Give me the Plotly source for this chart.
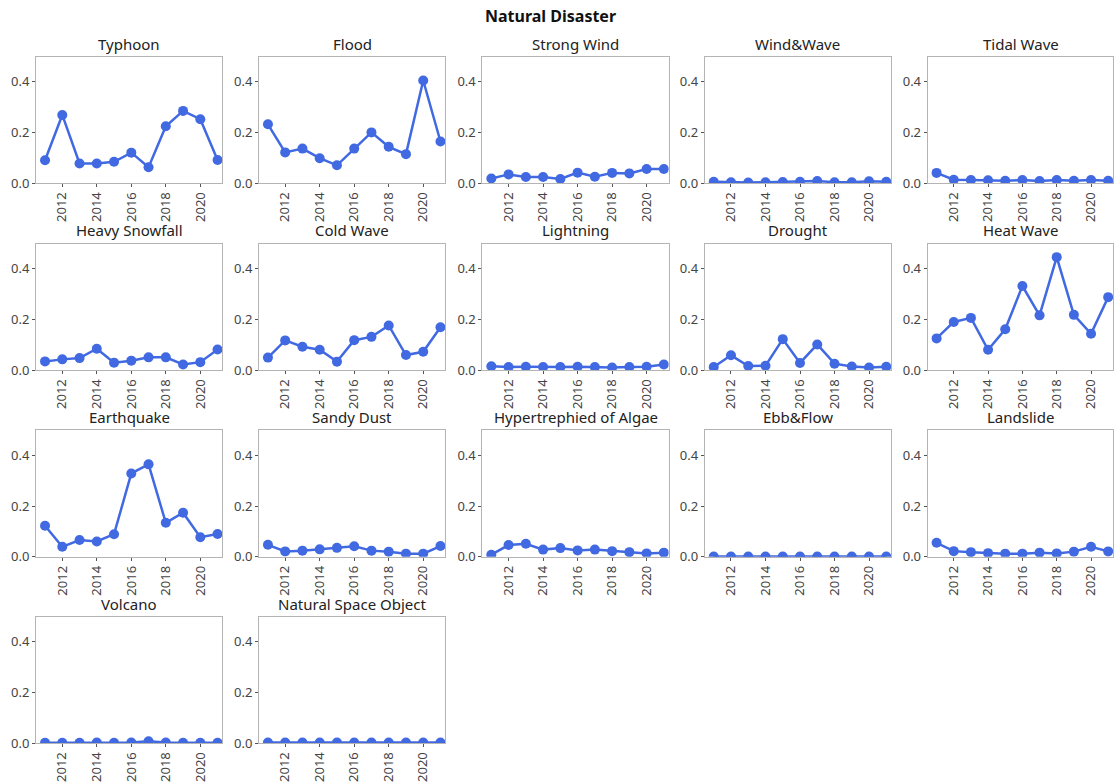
import plotly.graph_objects as go

years = list(range(2011, 2022))

typhoon = [0.090, 0.269, 0.077, 0.077, 0.084, 0.120, 0.062, 0.224, 0.285, 0.252, 0.091]
flood = [0.232, 0.121, 0.136, 0.098, 0.070, 0.136, 0.200, 0.143, 0.114, 0.405, 0.164]
strong_wind = [0.018, 0.034, 0.024, 0.024, 0.016, 0.041, 0.025, 0.040, 0.038, 0.055, 0.055]
wind_wave = [0.005, 0.003, 0.002, 0.003, 0.004, 0.005, 0.008, 0.003, 0.003, 0.007, 0.005]
tidal_wave = [0.040, 0.013, 0.012, 0.011, 0.009, 0.012, 0.008, 0.012, 0.009, 0.012, 0.009]
heavy_snowfall = [0.034, 0.042, 0.047, 0.084, 0.029, 0.037, 0.050, 0.050, 0.022, 0.031, 0.081]
cold_wave = [0.049, 0.117, 0.092, 0.080, 0.033, 0.118, 0.131, 0.176, 0.059, 0.072, 0.169]
lightning = [0.015, 0.012, 0.013, 0.012, 0.012, 0.013, 0.012, 0.010, 0.012, 0.013, 0.022]
drought = [0.012, 0.058, 0.016, 0.017, 0.122, 0.028, 0.101, 0.025, 0.014, 0.010, 0.013]
heat_wave = [0.125, 0.190, 0.206, 0.080, 0.161, 0.332, 0.216, 0.446, 0.218, 0.143, 0.288]
earthquake = [0.122, 0.039, 0.066, 0.060, 0.089, 0.329, 0.365, 0.134, 0.174, 0.077, 0.090]
sandy_dust = [0.047, 0.021, 0.024, 0.029, 0.035, 0.041, 0.024, 0.020, 0.012, 0.012, 0.042]
algae = [0.008, 0.046, 0.051, 0.028, 0.034, 0.025, 0.028, 0.022, 0.018, 0.013, 0.016]
ebb_flow = [0.001, 0.001, 0.001, 0.001, 0.001, 0.001, 0.001, 0.001, 0.001, 0.001, 0.001]
landslide = [0.055, 0.022, 0.018, 0.014, 0.012, 0.012, 0.016, 0.013, 0.020, 0.039, 0.021]
volcano = [0.001, 0.001, 0.001, 0.002, 0.001, 0.002, 0.007, 0.002, 0.001, 0.001, 0.001]
space_object = [0.002, 0.002, 0.002, 0.002, 0.002, 0.002, 0.002, 0.002, 0.002, 0.002, 0.002]

titles = ["Typhoon", "Flood", "Strong Wind", "Wind&Wave", "Tidal Wave",
          "Heavy Snowfall", "Cold Wave", "Lightning", "Drought", "Heat Wave",
          "Earthquake", "Sandy Dust", "Hypertrephied of Algae", "Ebb&Flow", "Landslide",
          "Volcano", "Natural Space Object"]
series = [typhoon, flood, strong_wind, wind_wave, tidal_wave,
          heavy_snowfall, cold_wave, lightning, drought, heat_wave,
          earthquake, sandy_dust, algae, ebb_flow, landslide,
          volcano, space_object]

W, H = 1114, 783
# usable drawing extent in pixels, used to place the panel grid
GW, GH = 1111, 774
col_left = [36, 258.5, 481.5, 703.5, 926]
row_bottom = [183, 370, 556.7, 743]
box_w = 186
box_h = 126.5

LINE = "#4169E1"
FONT = "Noto Sans"

fig = go.Figure()
annotations = []
for i, (name, vals) in enumerate(zip(titles, series)):
    r, c = divmod(i, 5)
    n = i + 1
    xa = "xaxis" if n == 1 else f"xaxis{n}"
    ya = "yaxis" if n == 1 else f"yaxis{n}"
    xref = "x" if n == 1 else f"x{n}"
    yref = "y" if n == 1 else f"y{n}"
    x0 = col_left[c] / GW
    x1 = (col_left[c] + box_w) / GW
    y0 = 1 - row_bottom[r] / GH
    y1 = 1 - (row_bottom[r] - box_h) / GH
    fig.add_trace(go.Scatter(
        x=years, y=vals, mode="lines+markers", xaxis=xref, yaxis=yref,
        line=dict(color=LINE, width=2.5),
        marker=dict(color=LINE, size=10),
        showlegend=False, hoverinfo="x+y",
    ))
    fig.layout[xa] = dict(
        domain=[x0, min(x1, 1.0)], anchor=yref, range=[2010.48, 2021.28],
        tickmode="array", tickvals=[2012, 2014, 2016, 2018, 2020],
        ticktext=["2012", "2014", "2016", "2018", "2020"],
        tickangle=-90, ticks="outside", ticklen=3, tickcolor="#555",
        showline=True, mirror=True, linecolor="#b4b4b4", linewidth=1,
        showgrid=False, zeroline=False,
        tickfont=dict(family=FONT, size=13, color="#444"),
    )
    fig.layout[ya] = dict(
        domain=[y0, y1], anchor=xref, range=[0, 0.5],
        tickmode="array", tickvals=[0, 0.2, 0.4],
        ticktext=["0.0", "0.2", "0.4"],
        ticks="outside", ticklen=3, tickcolor="#555",
        showline=True, mirror=True, linecolor="#b4b4b4", linewidth=1,
        showgrid=False, zeroline=False,
        tickfont=dict(family=FONT, size=13, color="#444"),
    )
    annotations.append(dict(
        text=name, x=(x0 + x1) / 2, y=y1, xref="paper", yref="paper",
        xanchor="center", yanchor="bottom", yshift=1, showarrow=False,
        font=dict(family=FONT, size=15, color="#222"),
    ))

annotations.append(dict(
    text="<b>Natural Disaster</b>", x=550 / GW, y=1 - 16 / GH, xref="paper", yref="paper",
    xanchor="center", yanchor="middle", showarrow=False,
    font=dict(family=FONT, size=16, color="#111"),
))

fig.update_layout(
    width=W, height=H,
    margin=dict(l=0, r=0, t=0, b=0),
    paper_bgcolor="white", plot_bgcolor="white",
    annotations=annotations,
)

fig.write_html("out.html")
